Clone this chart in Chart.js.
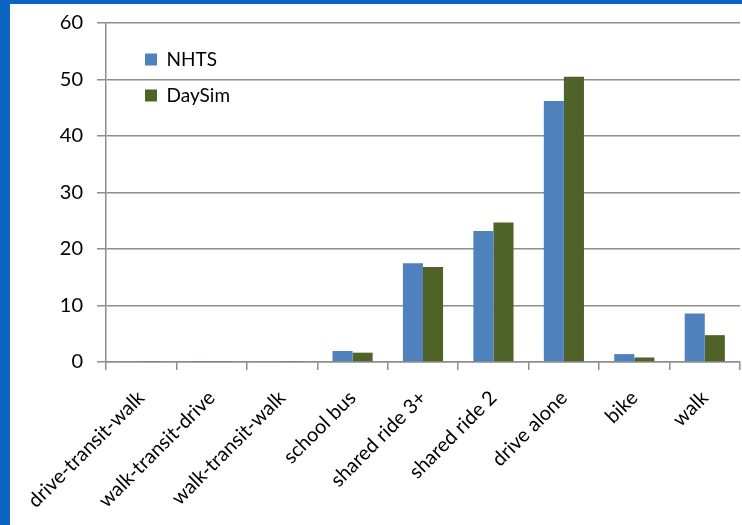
<!DOCTYPE html>
<html>
<head>
<meta charset="utf-8">
<script src="https://cdn.jsdelivr.net/npm/chart.js@4/dist/chart.umd.min.js"></script>
<style>
  html, body { margin: 0; padding: 0; background: #0A66C2; }
  #wrap { position: absolute; left: 10px; top: 4px; width: 732px; height: 521px; background: #fff; }
  canvas { display: block; }
</style>
</head>
<body>
<div id="wrap"><canvas id="c" width="732" height="521"></canvas></div>
<script>
const categories = ["drive-transit-walk", "walk-transit-drive", "walk-transit-walk", "school bus",
  "shared ride 3+", "shared ride 2", "drive alone", "bike", "walk"];
const nhts = [0.1, 0.05, 0.1, 1.95, 17.5, 23.2, 46.2, 1.4, 8.6];
const daysim = [0.1, 0.1, 0.1, 1.65, 16.8, 24.7, 50.5, 0.8, 4.75];
const yTicks = [0, 10, 20, 30, 40, 50, 60];

const FONT = "Lato, 'Open Sans', sans-serif";
const GRID = '#8E8E8E';

const legendShift = {
  id: 'legendShift',
  afterLayout(chart) {
    const lg = chart.legend;
    if (lg) { lg.left += 22; lg.top += 29; }
  }
};

new Chart(document.getElementById('c'), {
  type: 'bar',
  data: {
    labels: categories,
    datasets: [
      { label: 'NHTS', data: nhts, backgroundColor: '#4F81BD', categoryPercentage: 0.57, barPercentage: 1.0 },
      { label: 'DaySim', data: daysim, backgroundColor: '#4F6228', categoryPercentage: 0.57, barPercentage: 1.0 }
    ]
  },
  plugins: [legendShift],
  options: {
    responsive: false,
    animation: false,
    layout: { padding: { left: 0, right: 2, top: 19, bottom: 0 } },
    plugins: {
      legend: {
        position: 'chartArea',
        align: 'start',
        labels: {
          boxWidth: 12, boxHeight: 12, padding: 17,
          color: '#000',
          font: { family: FONT, size: 19 }
        }
      },
      tooltip: { enabled: false }
    },
    scales: {
      x: {
        afterFit(scale) { scale.height = 163; scale.paddingLeft = 0; scale.paddingRight = 0; },
        grid: { display: true, drawOnChartArea: false, offset: true, color: GRID, lineWidth: 1.5, tickLength: 8 },
        border: { color: GRID, width: 1.5 },
        ticks: {
          minRotation: 45, maxRotation: 45, autoSkip: false, padding: 16,
          color: '#000', font: { family: FONT, size: 20 }
        }
      },
      y: {
        min: 0, max: 60,
        afterFit(scale) { scale.width = 96; scale.paddingTop = 0; scale.paddingBottom = 0; },
        afterBuildTicks(scale) { scale.ticks = yTicks.map(v => ({ value: v })); },
        grid: { color: GRID, lineWidth: 1.5, tickLength: 9 },
        border: { color: GRID, width: 1.5 },
        ticks: { padding: 14, color: '#000', font: { family: FONT, size: 20 } }
      }
    }
  }
});
</script>
</body>
</html>
